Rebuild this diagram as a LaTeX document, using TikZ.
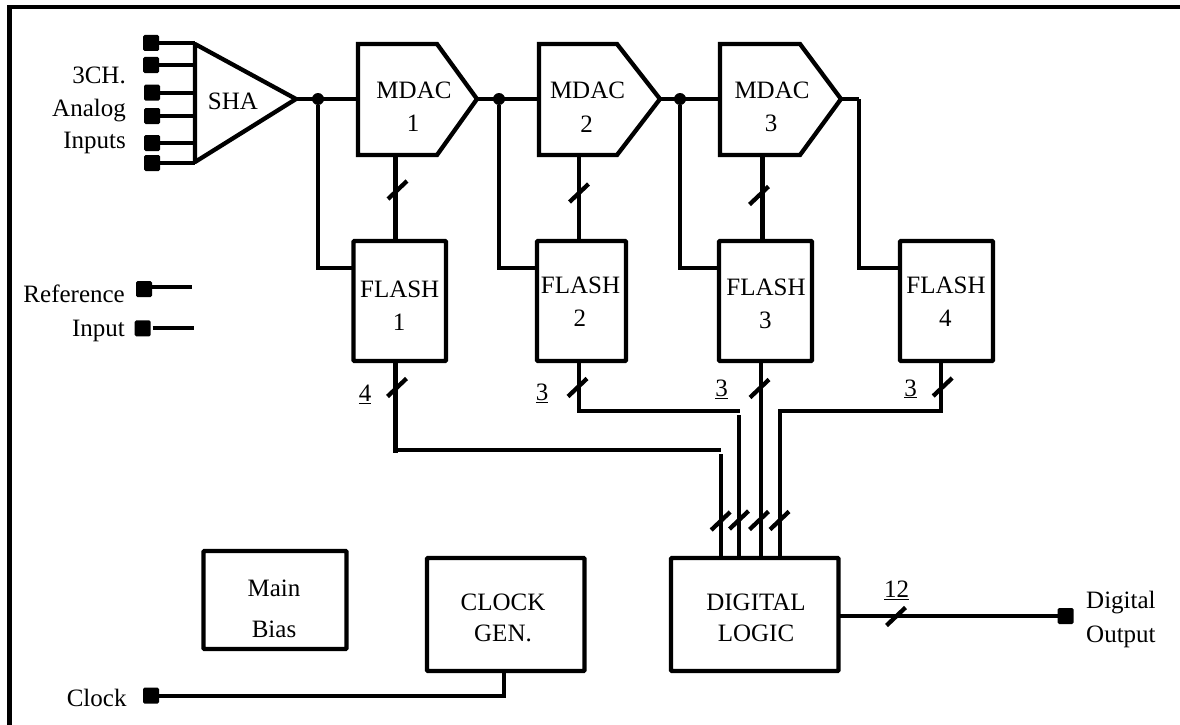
\documentclass[tikz,border=0pt]{standalone}
\usepackage{fontspec}
\setmainfont{Liberation Serif}
\usetikzlibrary{calc}
\newcommand{\lbl}{\fontsize{25}{30}\selectfont}
\tikzset{
  ln/.style={line width=4.3pt,line cap=butt,line join=miter},
  blk/.style={draw,line width=4.3pt,rounded corners=1pt,inner sep=0pt,outer sep=0pt,anchor=north west},
  pad/.style={fill=black,rounded corners=1.5pt,inner sep=0pt,minimum size=16pt},
  dotj/.style={circle,fill=black,inner sep=0pt,minimum size=12pt},
  txt/.style={inner sep=0pt,anchor=base,font=\lbl},
  txr/.style={inner sep=0pt,anchor=base east,font=\lbl},
  txl/.style={inner sep=0pt,anchor=base west,font=\lbl},
  slash/.style={line width=4.3pt}
}
\newcommand{\bus}[1]{\draw[slash] ($(#1)+(-9.5,9)$) -- ($(#1)+(9.5,-9)$);}
\begin{document}
\begin{tikzpicture}[x=1pt,y=-1pt]
\useasboundingbox (0,0) rectangle (1180,725);
\fill[white] (0,0) rectangle (1180,725);
% frame: only the top and left edges are visible
\draw[line width=4.4pt] (9.5,725) -- (9.5,7) -- (1180,7);

% pads
\foreach \n/\x/\y in {p1/151/43,p2/151/65,p3/152/92.7,p4/152/116,p5/152/143,p6/152/163,
  pr/144/289,pi/142.7/328.3,pc/151/695.7,po/1065.7/616}
  \node[pad] (\n) at (\x,\y) {};

% SHA
\coordinate (shaA) at (195,44);
\coordinate (shaB) at (296,99);
\coordinate (shaC) at (195,162);
\draw[ln,line join=round] (shaA) -- (shaB) -- (shaC) -- cycle;
\node[txt] (sha) at (233,109) {SHA};
\foreach \n in {1,...,6} \draw[ln] (p\n) -- (p\n -| shaA);

% MDACs
\foreach \n/\x/\c/\t/\s/\lx/\ly in {1/358/437/477/395.5/414/98,2/539/617/660/579/587.5/99,3/720/800/841/762.5/772/98}{
  \coordinate (mA\n) at (\x,44);
  \coordinate (mB\n) at (\c,44);
  \coordinate (mO\n) at (\t,99);
  \coordinate (mC\n) at (\c,155);
  \coordinate (mD\n) at (\x,155);
  \coordinate (mI\n) at (\x,99);
  \coordinate (mS\n) at (\s,155);
  \draw[ln] (mA\n) -- (mB\n) -- (mO\n) -- (mC\n) -- (mD\n) -- cycle;
  \node[txt] (mt\n) at (\lx,\ly) {MDAC};
  \node[txt] (mn\n) at (\lx-1,\ly+33) {\n};
}

% FLASH boxes
\foreach \n/\x/\w/\lx/\ly in {1/353.5/92.5/399.7/297,2/537/89/580.5/293,3/719/93/766/295,4/900/93/946/293}{
  \node[blk,minimum width=\w pt,minimum height=120pt] (f\n) at (\x,241) {};
  \node[txt] (ft\n) at (\lx,\ly) {FLASH};
  \node[txt] (fn\n) at (\lx-0.7,\ly+33.5) {\n};
}

% junctions
\foreach \n/\x in {j1/318,j2/499,j3/680}
  \node[dotj] (\n) at (\x,99) {};
\coordinate (j4) at (859,99);

% forward path
\draw[ln] (shaB) -- (mI1);
\draw[ln] (mO1) -- (mI2);
\draw[ln] (mO2) -- (mI3);
\draw[ln] (mO3) -- (j4);
\draw[ln] (j1) |- (f1.west |- 0,268);
\draw[ln] (j2) |- (f2.west |- 0,268);
\draw[ln] (j3) |- (f3.west |- 0,268);
\draw[ln] (j4) |- (f4.west |- 0,268);

% MDAC to FLASH
\draw[ln] (mS1) -- (mS1 |- f1.north);
\draw[ln] (mS2) -- (mS2 |- f2.north);
\draw[ln] (mS3) -- (mS3 |- f3.north);
\bus{397.5,190}
\bus{579,193}
\bus{759,195.5}

% Lower blocks
\node[blk,minimum width=167.5pt,minimum height=113pt] (dl) at (671,558) {};
\node[txt] (dl1) at (756,610) {DIGITAL};
\node[txt] (dl2) at (756,641.7) {LOGIC};
\node[blk,minimum width=157.5pt,minimum height=113pt] (cg) at (427,558) {};
\node[txt] (cg1) at (503,610) {CLOCK};
\node[txt] (cg2) at (503,641.7) {GEN.};
\node[blk,minimum width=143pt,minimum height=98pt] (mb) at (203.5,551) {};
\node[txt] (mb1) at (274,596) {Main};
\node[txt] (mb2) at (274,637) {Bias};

% buses
\coordinate (b1) at (395.5,450);
\coordinate (e1) at (720.7,450);
\coordinate (b2) at (579,411);
\coordinate (e2) at (739.5,411);
\coordinate (b3) at (941.3,411);
\coordinate (e3) at (780,411);
\draw[ln] (b1 |- f1.south) -- (395.5,453);
\draw[ln] (393.5,450) -- (e1);
\draw[ln] (720.7,454) -- (e1 |- dl.north);
\draw[ln] (b2 |- f2.south) -- (b2) -- (e2);
\draw[ln] (739,415) -- (739,558);
\draw[ln] (760.7,361) -- (760.7,558);
\draw[ln] (b3 |- f4.south) -- (b3) -- (e3) -- (e3 |- dl.north);
\bus{397,387.5}
\bus{577.5,387.5}
\bus{759.5,388.5}
\bus{942.7,387}
\bus{720.7,521}
\bus{739,520}
\bus{759,520.5}
\bus{779.5,520.5}

% bus widths
\node[txt] (n4) at (365,401.5) {\underline{4}};
\node[txt] (n3a) at (542,400.7) {\underline{3}};
\node[txt] (n3b) at (721.7,396.7) {\underline{3}};
\node[txt] (n3c) at (910.7,396) {\underline{3}};
\node[txt] (n12) at (896.7,597.7) {\underline{12}};

% outputs
\draw[ln] (dl.east |- po) -- (po);
\bus{896,616.5}
\coordinate (ck) at (504,695.7);
\draw[ln] (pc) -- (ck) -- (ck |- cg.south);

% reference / input stubs
\coordinate (re) at (191.7,287.3);
\coordinate (ie) at (194,327.7);
\draw[ln] (pr.east |- re) -- (re);
\draw[ln] (152.7,327.7) -- (ie);

% labels
\node[txr] (l3ch) at (126,83) {3CH.};
\node[txr] (lan) at (126,116) {Analog};
\node[txr] (lin) at (126,148) {Inputs};
\node[txr] (lref) at (125,302.7) {Reference};
\node[txr] (lip) at (125,336) {Input};
\node[txr] (lclk) at (126.7,706.7) {Clock};
\node[txl] (ld) at (1086,608) {Digital};
\node[txl] (lo) at (1086,642) {Output};
\end{tikzpicture}
\end{document}
